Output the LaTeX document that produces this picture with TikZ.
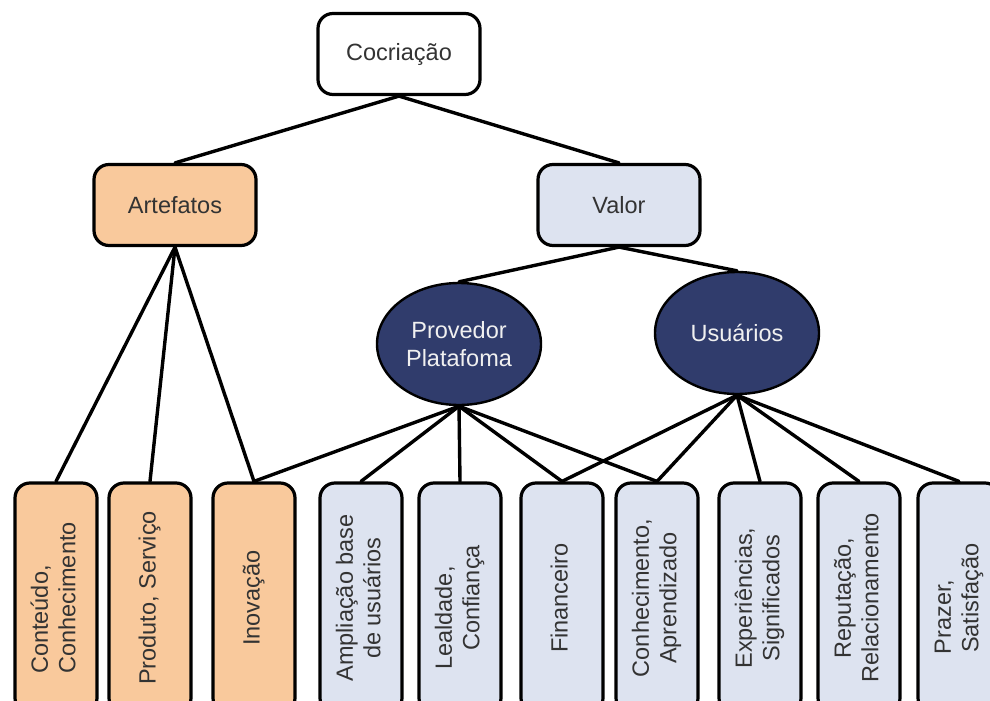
\documentclass[tikz,border=0pt]{standalone}
\usepackage{fontspec}
\setmainfont{Liberation Sans}
\usetikzlibrary{shapes.geometric}
\definecolor{peach}{HTML}{F9C99C}
\definecolor{paleblue}{HTML}{DDE3F0}
\definecolor{navy}{HTML}{303C6C}
\definecolor{ink}{HTML}{333333}
% vertical label for the leaf boxes (optional column alignment)
\newcommand{\vlabel}[2][c]{\rotatebox{90}{\begin{tabular}{@{}#1@{}}#2\end{tabular}}}
\begin{document}
\begin{tikzpicture}[x=1pt,y=-1pt,
  every node/.style={font=\fontsize{23.5}{27.5}\selectfont},
  box/.style={draw=black, line width=3.2pt, rounded corners=15pt, text=ink,
              align=center, inner sep=0pt},
  topbox/.style={box, minimum width=162pt, minimum height=81pt},
  leaf/.style={box, minimum width=82pt, minimum height=230pt},
  party/.style={ellipse, draw=black, line width=2.4pt, fill=navy, text=white!94!black,
                align=center, minimum width=164pt, minimum height=122pt, inner sep=0pt},
  link/.style={draw=black, line width=3.4pt, line cap=round}]
\useasboundingbox (0,0) rectangle (990,701);
\clip (0,0) rectangle (990,701);

% upper levels
\node[topbox, fill=white]     (coc) at (399,54)  {Cocriação};
\node[topbox, fill=peach]     (art) at (175,205) {Artefatos};
\node[topbox, fill=paleblue]  (val) at (619,205) {Valor};
\node[party] (prov) at (459,344) {Provedor\\Platafoma};
\node[party] (usu)  at (737,333) {Usuários};

% leaves (their lower edge runs past the page)
\node[leaf, fill=peach]    (b1)  at (56,598)  {\vlabel[l]{Conteúdo,\\Conhecimento}};
\node[leaf, fill=peach]    (b2)  at (150,598) {\vlabel{Produto, Serviço}};
\node[leaf, fill=peach]    (b3)  at (254,598) {\vlabel{Inovação}};
\node[leaf, fill=paleblue] (b4)  at (361,598) {\vlabel{Ampliação base\\de usuários}};
\node[leaf, fill=paleblue] (b5)  at (460,598) {\vlabel{Lealdade,\hspace*{40pt}\\Confiança}};
\node[leaf, fill=paleblue] (b6)  at (562,598) {\vlabel{Financeiro}};
\node[leaf, fill=paleblue] (b7)  at (657,598) {\vlabel{Conhecimento,\\Aprendizado}};
\node[leaf, fill=paleblue] (b8)  at (760,598) {\vlabel{Experiências,\\Significados}};
\node[leaf, fill=paleblue] (b9)  at (859,598) {\vlabel{Reputação,\\Relacionamento}};
\node[leaf, fill=paleblue] (b10) at (959,598) {\vlabel{Prazer,\hspace*{38pt}\\Satisfação}};

% connectors
\draw[link] (coc.south) -- (art.north);
\draw[link] (coc.south) -- (val.north);
\draw[link] (val.south) -- (prov.north);
\draw[link] (val.south) -- (usu.north);
\foreach \b in {b1,b2,b3} \draw[link] (art.south) -- (\b.north);
\foreach \b in {b3,b4,b5,b6,b7} \draw[link] (prov.south) -- (\b.north);
\foreach \b in {b6,b7,b8,b9,b10} \draw[link] (usu.south) -- (\b.north);
\end{tikzpicture}
\end{document}
